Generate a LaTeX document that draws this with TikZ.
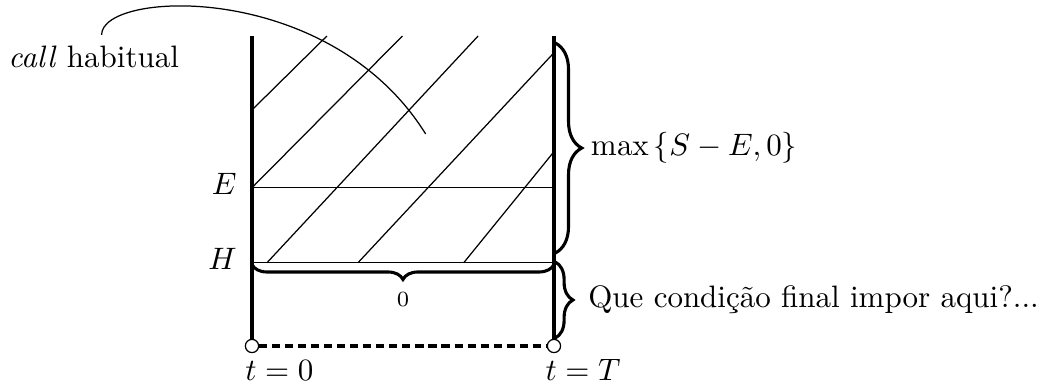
\documentclass[tikz,border=0pt]{standalone}
\usetikzlibrary{decorations.pathreplacing}
\begin{document}
\begin{tikzpicture}
    \def\W{3.424}
    \def\yT{3.515}
    \def\yE{1.795}
    \def\yH{0.944}
    \tikzset{
      wall/.style={line width=1pt},
      dot/.style={circle, draw, fill=white, inner sep=0pt, minimum size=0.15cm},
      curly/.style={decorate, decoration={brace, amplitude=#1}, line width=1pt},
    }
    \useasboundingbox (-2.857,-0.465) rectangle (9.150,3.923);

    \coordinate (top0) at (0,\yT);
    \coordinate (topT) at (\W,\yT);
    \coordinate (E0) at (0,\yE);
    \coordinate (ET) at (\W,\yE);
    \coordinate (H0) at (0,\yH);
    \coordinate (HT) at (\W,\yH);

    % hatched region
    \draw (0,2.676) -- (0.850,\yT);
    \draw (E0) -- (1.706,\yT);
    \draw (0.170,\yH) -- (2.564,\yT);
    \draw (1.202,\yH) -- (\W,3.325);
    \draw (2.401,\yH) -- (\W,2.203);

    \draw (E0) -- (ET);
    \draw (H0) -- (HT);

    \node[dot] (c0) at (0,0) {};
    \node[dot] (cT) at (\W,0) {};
    \draw[wall] (c0) -- (top0);
    \draw[wall] (cT) -- (topT);
    \draw[wall, dash pattern=on 2.6pt off 1.6pt] (c0) -- (cT);

    \node[left] (lE) at (-0.05,1.84) {$E$};
    \node[left] (lH) at (-0.05,0.99) {$H$};
    \node[right] (l0) at (-0.2,-0.275) {$t=0$};
    \node[right] (lT) at (\W-0.22,-0.275) {$t=T$};

    % braces
    \coordinate (bA) at (\W+0.015,3.435);
    \coordinate (bB) at (\W+0.015,1.054);
    \coordinate (bC) at (\W+0.015,0.952);
    \coordinate (bD) at (\W+0.015,0.091);
    \draw[curly=0.3cm] (bA) -- (bB)
      node[midway, right, xshift=0.27cm] (mx) {$\max\left\{S-E,0\right\}$};
    \draw[curly=0.2cm] (bC) -- (bD)
      node[midway, right, xshift=0.24cm] (ask) {Que condição final impor aqui?...};
    \draw[curly=0.17cm, decoration={raise=0.02cm}] (HT) -- (H0)
      node[midway, below=0.2cm, font=\scriptsize] (zero) {$0$};

    \node (call) at (-1.795,3.28) {\textit{call} habitual};
    \draw ([xshift=0.09cm]call.north) .. controls (-1.704,4.036) and (0.884,4.150) .. (1.969,2.404);
\end{tikzpicture}
\end{document}
